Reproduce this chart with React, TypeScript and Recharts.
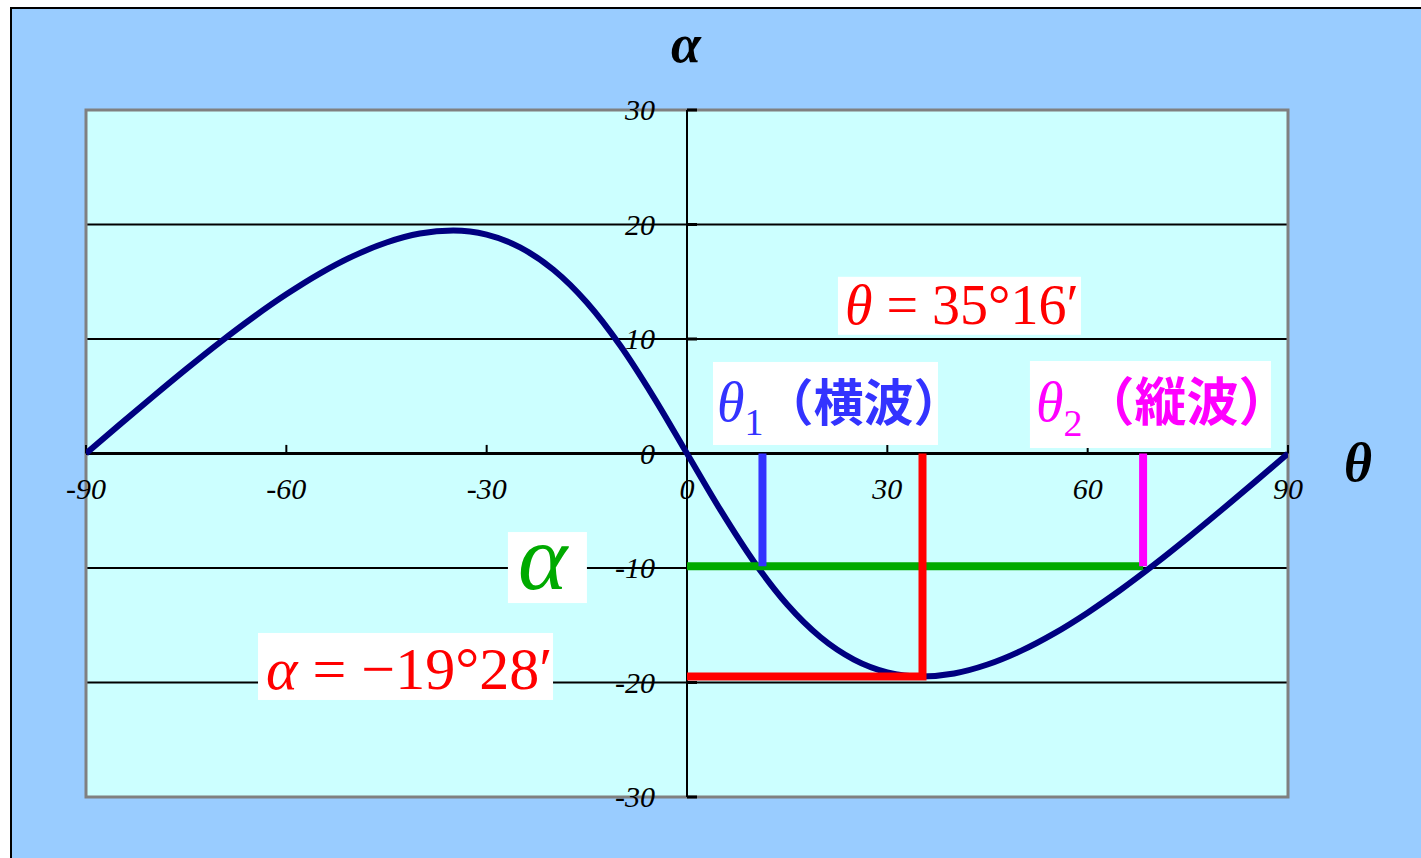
import React from 'react';
import {
  LineChart,
  Line,
  XAxis,
  YAxis,
  CartesianGrid,
  ReferenceLine,
  ReferenceArea,
  ReferenceDot,
} from 'recharts';

// Incidence angle θ (deg) and the resulting deviation α (deg)
const thetaValues = [
  -90, -85, -80, -75, -70, -65, -60, -55, -50, -45, -40, -35, -30, -25, -20, -15, -10, -5,
  0, 5, 10, 15, 20, 25, 30, 35, 40, 45, 50, 55, 60, 65, 70, 75, 80, 85, 90,
];
const alphaValues = [
  0, 2.5, 4.96, 7.37, 9.69, 11.88, 13.9, 15.71, 17.24, 18.43, 19.21, 19.47, 19.11, 18.0, 16.05, 13.19, 9.43, 4.93,
  0, -4.93, -9.43, -13.19, -16.05, -18.0, -19.11, -19.47, -19.21, -18.43, -17.24, -15.71, -13.9, -11.88, -9.69, -7.37, -4.96, -2.5, 0,
];

const xTicks = [-90, -60, -30, 0, 30, 60, 90];
const yTicks = [30, 20, 10, 0, -10, -20, -30];
const gridValues = [20, 10, -10, -20];

// Extremum: θ = 35°16′, α = −19°28′
const thetaAtMin = 35 + 16 / 60;
const alphaMin = -(19 + 28 / 60);

// A chosen α level and the two θ that give it
const alphaLevel = -9.85;
const theta1 = 11.3;
const theta2 = 68.3;

const curveData = thetaValues.map((t, i) => ({ theta: t, alpha: alphaValues[i] }));
const minData = [
  { theta: 0, alpha: alphaMin },
  { theta: thetaAtMin, alpha: alphaMin },
  { theta: thetaAtMin, alpha: 0 },
];
const levelData = [
  { theta: 0, alpha: alphaLevel },
  { theta: theta2, alpha: alphaLevel },
];
const theta1Data = [
  { theta: theta1, alpha: 0 },
  { theta: theta1, alpha: alphaLevel },
];
const theta2Data = [
  { theta: theta2, alpha: 0 },
  { theta: theta2, alpha: alphaLevel },
];

const SERIF = "'Liberation Serif', 'Times New Roman', serif";
const CJK = "'Noto Sans CJK JP', 'Noto Sans CJK SC', sans-serif";

const RED = '#FF0000';
const BLUE = '#3333FF';
const MAGENTA = '#FF00FF';
const GREEN = '#00AA00';
const NAVY = '#000080';

type Box = { w: number; h: number; padX: number; base: number };

const boxLabel = (box: Box, content: React.ReactNode) => (props: any) => {
  const vb = props.viewBox || {};
  const cx = vb.x + (vb.width || 0) / 2;
  const cy = vb.y + (vb.height || 0) / 2;
  const left = cx - box.w / 2;
  const top = cy - box.h / 2;
  return (
    <g>
      <rect x={left} y={top} width={box.w} height={box.h} fill="#FFFFFF" />
      <text x={left + box.padX} y={top + box.base} textAnchor="start">
        {content}
      </text>
    </g>
  );
};

const xTickLabel = (value: number) => (props: any) => {
  const vb = props.viewBox || {};
  return (
    <text
      x={vb.x}
      y={vb.y + 45}
      textAnchor="middle"
      fontFamily={SERIF}
      fontStyle="italic"
      fontSize={30}
      fill="#000"
    >
      {value}
    </text>
  );
};

const yTickLabel = (value: number) => (props: any) => {
  const vb = props.viewBox || {};
  return (
    <text
      x={vb.x - 32}
      y={vb.y + 10}
      textAnchor="end"
      fontFamily={SERIF}
      fontStyle="italic"
      fontSize={30}
      fill="#000"
    >
      {value}
    </text>
  );
};

const axisName = (name: string, dx: number, dy: number) => (props: any) => {
  const vb = props.viewBox || {};
  return (
    <text
      x={vb.x + dx}
      y={vb.y + dy}
      textAnchor="middle"
      fontFamily={SERIF}
      fontStyle="italic"
      fontWeight="bold"
      fontSize={54}
      fill="#000"
    >
      {name}
    </text>
  );
};

export default function App() {
  return (
    <div style={{ position: 'absolute', left: 0, top: 0, width: 1421, height: 858, overflow: 'hidden', background: '#FFFFFF' }}>
      <div
        style={{
          position: 'absolute',
          left: 10,
          top: 7,
          width: 1420,
          height: 860,
          background: '#99CCFF',
          borderTop: '2px solid #000',
          borderLeft: '2px solid #000',
        }}
      />
      <div style={{ position: 'absolute', left: 0, top: 0 }}>
        <LineChart width={1421} height={858} margin={{ top: 110, right: 133, bottom: 61, left: 86 }}>
          <CartesianGrid
            fill="#CCFFFF"
            vertical={false}
            horizontalValues={gridValues}
            stroke="#000000"
            strokeWidth={2}
          />
          <XAxis type="number" dataKey="theta" domain={[-90, 90]} ticks={xTicks} allowDataOverflow hide />
          <YAxis type="number" domain={[-30, 30]} ticks={yTicks} allowDataOverflow hide />

          <ReferenceLine y={0} stroke="#000" strokeWidth={3} />
          <ReferenceLine x={0} stroke="#000" strokeWidth={2} />
          {xTicks.map((t) => (
            <ReferenceLine
              key={`xt${t}`}
              segment={[{ x: t, y: 0 }, { x: t, y: 0.75 }]}
              stroke="#000"
              strokeWidth={2}
            />
          ))}
          {yTicks.map((v) => (
            <ReferenceLine
              key={`yt${v}`}
              segment={[{ x: 0, y: v }, { x: 1.5, y: v }]}
              stroke="#000"
              strokeWidth={3}
            />
          ))}
          <ReferenceArea x1={-90} x2={90} y1={-30} y2={30} fill="none" stroke="#808080" strokeWidth={3} />

          <Line
            data={curveData}
            dataKey="alpha"
            type="monotone"
            stroke={NAVY}
            strokeWidth={6}
            dot={false}
            isAnimationActive={false}
          />
          <Line data={levelData} dataKey="alpha" type="linear" stroke={GREEN} strokeWidth={8} dot={false} isAnimationActive={false} />
          <Line data={theta1Data} dataKey="alpha" type="linear" stroke={BLUE} strokeWidth={8} dot={false} isAnimationActive={false} />
          <Line data={theta2Data} dataKey="alpha" type="linear" stroke={MAGENTA} strokeWidth={8} dot={false} isAnimationActive={false} />
          <Line
            data={minData}
            dataKey="alpha"
            type="linear"
            stroke={RED}
            strokeWidth={8}
            strokeLinejoin="miter"
            dot={false}
            isAnimationActive={false}
          />

          {xTicks.map((t) => (
            <ReferenceDot key={`xl${t}`} x={t} y={0} r={0} fill="none" stroke="none" label={xTickLabel(t)} />
          ))}
          {yTicks.map((v) => (
            <ReferenceDot key={`yl${v}`} x={0} y={v} r={0} fill="none" stroke="none" label={yTickLabel(v)} />
          ))}
          <ReferenceDot x={0} y={30} r={0} fill="none" stroke="none" ifOverflow="visible" label={axisName('α', -1, -48)} />
          <ReferenceDot x={90} y={0} r={0} fill="none" stroke="none" ifOverflow="visible" label={axisName('θ', 70, 27)} />

          <ReferenceDot
            x={40.8}
            y={12.9}
            r={0}
            fill="none"
            stroke="none"
            label={boxLabel(
              { w: 243, h: 58, padX: 7, base: 47 },
              <tspan fill={RED} fontFamily={SERIF} fontSize={56}>
                <tspan fontStyle="italic">θ</tspan>
                <tspan> = 35°16′</tspan>
              </tspan>
            )}
          />
          <ReferenceDot
            x={20.74}
            y={4.37}
            r={0}
            fill="none"
            stroke="none"
            label={boxLabel(
              { w: 225, h: 83, padX: 4, base: 59 },
              <>
                <tspan fill={BLUE} fontFamily={SERIF} fontStyle="italic" fontSize={56}>θ</tspan>
                <tspan fill={BLUE} fontFamily={SERIF} fontSize={38} dy={14}>1</tspan>
                <tspan fill={BLUE} fontFamily={CJK} fontWeight={700} fontSize={50} dy={-14}>（横波）</tspan>
              </>
            )}
          />
          <ReferenceDot
            x={69.4}
            y={4.28}
            r={0}
            fill="none"
            stroke="none"
            label={boxLabel(
              { w: 241, h: 87, padX: 6, base: 60 },
              <>
                <tspan fill={MAGENTA} fontFamily={SERIF} fontStyle="italic" fontSize={56}>θ</tspan>
                <tspan fill={MAGENTA} fontFamily={SERIF} fontSize={38} dy={15}>2</tspan>
                <tspan fill={MAGENTA} fontFamily={CJK} fontWeight={700} fontSize={52} dy={-15}>（縦波）</tspan>
              </>
            )}
          />
          <ReferenceDot
            x={-20.9}
            y={-9.96}
            r={0}
            fill="none"
            stroke="none"
            label={boxLabel(
              { w: 79, h: 71, padX: 10, base: 57 },
              <tspan fill={GREEN} fontFamily={SERIF} fontStyle="italic" fontSize={94}>α</tspan>
            )}
          />
          <ReferenceDot
            x={-42.15}
            y={-18.6}
            r={0}
            fill="none"
            stroke="none"
            label={boxLabel(
              { w: 295, h: 67, padX: 8, base: 56 },
              <tspan fill={RED} fontFamily={SERIF} fontSize={60}>
                <tspan fontStyle="italic">α</tspan>
                <tspan> = −19°28′</tspan>
              </tspan>
            )}
          />
        </LineChart>
      </div>
    </div>
  );
}
